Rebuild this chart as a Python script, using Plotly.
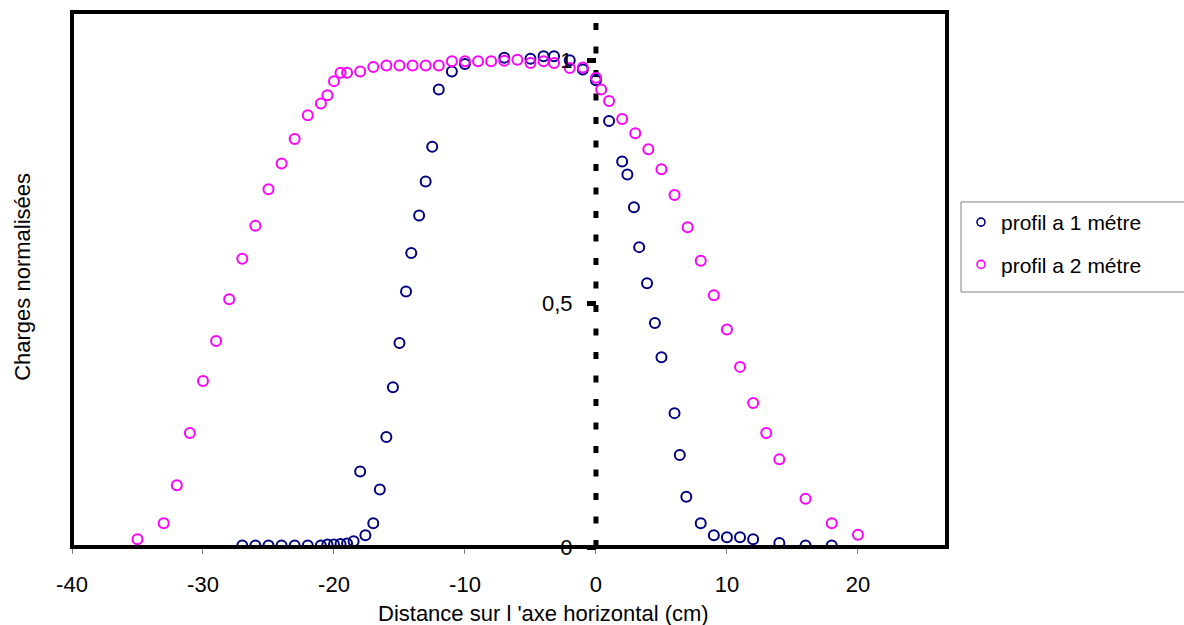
import plotly.graph_objects as go

# Profil à 1 mètre
x_1m = [-27, -26, -25, -24, -23, -22, -21, -20.5, -20, -19.5, -19, -18.5, -18, -17.6,
        -17, -16.5, -16, -15.5, -15, -14.5, -14.1, -13.5, -13, -12.5, -12, -11, -10, -7,
        -5, -4, -3.2, -2, -1, 0, 1, 2, 2.4, 2.9, 3.3, 3.9, 4.5, 5,
        6, 6.4, 6.9, 8, 9, 10, 11, 12, 14, 16, 18]
y_1m = [0.003, 0.003, 0.003, 0.003, 0.003, 0.003, 0.003, 0.005, 0.005, 0.006, 0.007, 0.012, 0.155, 0.024,
        0.049, 0.118, 0.226, 0.328, 0.419, 0.525, 0.604, 0.681, 0.751, 0.822, 0.94, 0.977, 0.992, 1.005,
        1.003, 1.008, 1.008, 1.0, 0.981, 0.959, 0.875, 0.792, 0.765, 0.698, 0.616, 0.542, 0.46, 0.39,
        0.275, 0.189, 0.103, 0.049, 0.024, 0.02, 0.02, 0.016, 0.008, 0.003, 0.003]

# Profil à 2 mètres
x_2m = [-35, -33, -32, -31, -30, -29, -28, -27, -26, -25, -24, -23, -22, -21,
        -20.5, -20, -19.5, -19, -18, -17, -16, -15, -14, -13, -12, -11, -10,
        -9, -8, -7, -6, -5, -4, -3.2, -2, -1, 0, 0.4, 1, 2, 3, 4, 5, 6, 7, 8, 9,
        10, 11, 12, 13, 14, 16, 18, 20]
y_2m = [0.016, 0.049, 0.127, 0.234, 0.341, 0.423, 0.509, 0.592, 0.660, 0.735, 0.788, 0.838, 0.887, 0.911,
        0.928, 0.957, 0.974, 0.974, 0.977, 0.986, 0.989, 0.989, 0.989, 0.989, 0.989, 0.998, 0.998,
        0.998, 0.998, 0.999, 1.001, 0.994, 0.998, 0.994, 0.984, 0.985, 0.964, 0.940, 0.916, 0.879, 0.850,
        0.817, 0.776, 0.723, 0.657, 0.588, 0.517, 0.447, 0.370, 0.296, 0.234, 0.180, 0.099, 0.049, 0.025]

x_ticks = [-40, -30, -20, -10, 0, 10, 20]
x_ticktext = [str(v) for v in x_ticks]          # plain hyphen as minus sign
y_ticks = [0, 0.5, 1]
y_ticktext = ["0", "0,5", "1"]

series = [
    ("profil a 1 métre", x_1m, y_1m, "#000080"),
    ("profil a 2 métre", x_2m, y_2m, "#FF00FF"),
]

X_RANGE = [-40, 26.8]
Y_RANGE = [0, 1.099]
FONT = "Arial, 'Liberation Sans', sans-serif"
FS = 22

fig = go.Figure()
for name, xs, ys, col in series:
    # data points
    fig.add_trace(go.Scatter(
        x=xs, y=ys, mode="markers", name=name, legendgroup=name, showlegend=False,
        marker=dict(symbol="circle-open", size=10, color=col, line=dict(width=2, color=col)),
    ))
    # smaller symbol for the legend entry
    fig.add_trace(go.Scatter(
        x=[None], y=[None], mode="markers", name=name, legendgroup=name, showlegend=True,
        marker=dict(symbol="circle-open", size=8, color=col, line=dict(width=1.6, color=col)),
    ))

# dashed vertical axis at x = 0
fig.add_shape(type="line", xref="x", yref="y", x0=0, x1=0, y0=Y_RANGE[0], y1=Y_RANGE[1],
              line=dict(color="black", width=5, dash="7px,16.5px"), layer="below")
# plot-area frame
fig.add_shape(type="rect", xref="paper", yref="paper", x0=0, x1=1, y0=0, y1=1,
              line=dict(color="black", width=4), layer="above")
# legend frame, running off the right edge of the page
fig.add_shape(type="rect", xref="paper", yref="paper", x0=1.016, x1=1.28, y0=0.4766, y1=0.6449,
              line=dict(color="#808080", width=1), layer="above")

fig.add_annotation(text="Distance sur l 'axe horizontal (cm)", xref="paper", yref="paper",
                   x=0.539, y=-0.1234, xanchor="center", yanchor="middle", showarrow=False,
                   font=dict(family=FONT, size=FS, color="black"))
fig.add_annotation(text="Charges normalisées", xref="paper", yref="paper",
                   x=-0.056, y=0.505, xanchor="center", yanchor="middle", textangle=-90,
                   showarrow=False, font=dict(family=FONT, size=FS, color="black"))

fig.update_layout(
    width=1184, height=625,
    margin=dict(l=72, r=237, t=12, b=78),
    paper_bgcolor="white", plot_bgcolor="white",
    font=dict(family=FONT, size=FS, color="black"),
    showlegend=True,
    legend=dict(x=1.016, y=0.645, xanchor="left", yanchor="top",
                borderwidth=0, bgcolor="rgba(0,0,0,0)",
                font=dict(family=FONT, size=FS - 1, color="black"),
                traceorder="grouped", tracegroupgap=12),
    xaxis=dict(range=X_RANGE, tickvals=x_ticks, ticktext=x_ticktext,
               showgrid=False, zeroline=False, showline=False,
               ticks="outside", ticklen=6, tickwidth=1, tickcolor="#808080",
               ticklabelstandoff=12,
               tickfont=dict(family=FONT, size=FS, color="black")),
    yaxis=dict(range=Y_RANGE, tickvals=y_ticks, ticktext=y_ticktext,
               showgrid=False, zeroline=False, showline=False,
               anchor="free", position=(0 - X_RANGE[0]) / (X_RANGE[1] - X_RANGE[0]),
               ticks="outside", ticklen=9, tickwidth=5, tickcolor="black",
               ticklabelstandoff=10,
               tickfont=dict(family=FONT, size=FS, color="black")),
)

fig.write_html("out.html")
